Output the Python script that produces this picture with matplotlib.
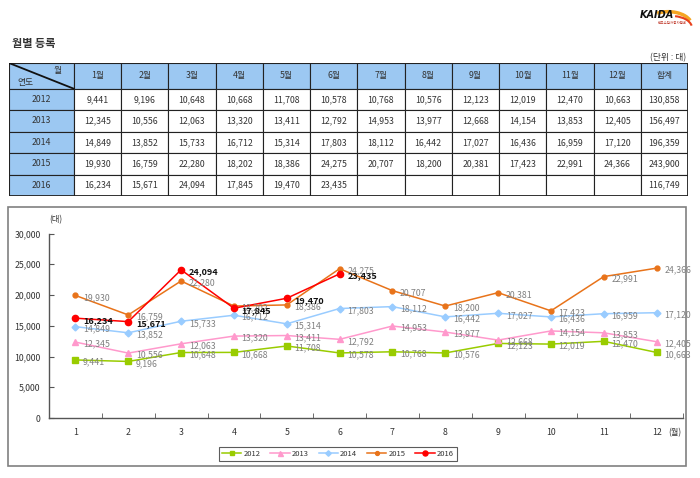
import matplotlib
matplotlib.use('Agg')
import matplotlib.pyplot as plt
from matplotlib.patches import Rectangle, Arc
from matplotlib.ticker import FuncFormatter, FixedLocator

plt.rcParams['font.family'] = ['Noto Sans CJK KR', 'DejaVu Sans']

# data
months = list(range(1, 13))
month_labels = [f'{m}월' for m in months]
years = ['2012', '2013', '2014', '2015', '2016']
reg_2012 = [9441, 9196, 10648, 10668, 11708, 10578, 10768, 10576, 12123, 12019, 12470, 10663]
reg_2013 = [12345, 10556, 12063, 13320, 13411, 12792, 14953, 13977, 12668, 14154, 13853, 12405]
reg_2014 = [14849, 13852, 15733, 16712, 15314, 17803, 18112, 16442, 17027, 16436, 16959, 17120]
reg_2015 = [19930, 16759, 22280, 18202, 18386, 24275, 20707, 18200, 20381, 17423, 22991, 24366]
reg_2016 = [16234, 15671, 24094, 17845, 19470, 23435]
series = [reg_2012, reg_2013, reg_2014, reg_2015, reg_2016]

colors = ['#99CC00', '#FF99CC', '#99CCFF', '#E8731A', '#FF0000']
markers = ['s', '^', 'D', 'o', 'o']
msizes = [4, 4.5, 3.5, 3.5, 4.5]

W, H = 700, 478
fig = plt.figure(figsize=(W / 100, H / 100), dpi=100)


def fx(x):
    return x / W


def fy(y):
    return 1 - y / H


txt = '#333333'

# title / unit / logo
fig.text(fx(12), fy(44), '월별 등록', fontsize=8, fontweight='bold', color=txt, va='center')
fig.text(fx(686), fy(58), '(단위 : 대)', fontsize=6.3, color=txt, va='center', ha='right')
fig.text(fx(657), fy(15), 'KAIDA', fontsize=7, fontweight='bold', fontstyle='italic',
         color='#111111', va='center', ha='center', family='DejaVu Sans')
fig.add_artist(Arc((fx(668), fy(26)), fx(48), 0.06, theta1=20, theta2=120,
                   transform=fig.transFigure, color='#F5A623', lw=2.5))
fig.add_artist(Arc((fx(672), fy(28)), fx(40), 0.05, theta1=10, theta2=80,
                   transform=fig.transFigure, color='#E8401C', lw=1.5))
fig.text(fx(672), fy(23), '한국수입자동차협회', fontsize=2.5, color='#C0392B', va='center', ha='center')

# table
tx = fig.add_axes([fx(9), fy(196), fx(688 - 9), (196 - 63) / H])
tx.axis('off')
head_h = 1.2
col_w = [1.373] + [1.0] * 13
n_rows = len(years)
tot_w = sum(col_w)
tot_h = head_h + n_rows
tx.set_xlim(0, tot_w)
tx.set_ylim(tot_h, 0)
edges = [0]
for w in col_w:
    edges.append(edges[-1] + w)

head_fill = '#9CC8F2'
header = [''] + month_labels + ['합계']
for j, lab in enumerate(header):
    tx.add_patch(Rectangle((edges[j], 0), col_w[j], head_h, facecolor=head_fill,
                           edgecolor='#222222', lw=0.8))
    if lab:
        tx.text(edges[j] + col_w[j] / 2, head_h / 2, lab, ha='center', va='center',
                fontsize=6.3, color=txt)
tx.plot([0, col_w[0]], [0, head_h], color='#111111', lw=1.3)
tx.text(col_w[0] * 0.75, head_h * 0.28, '월', ha='center', va='center', fontsize=6.3, color=txt)
tx.text(col_w[0] * 0.25, head_h * 0.75, '연도', ha='center', va='center', fontsize=6.3, color=txt)

for i, (yr, vals) in enumerate(zip(years, series)):
    y0 = head_h + i
    cells = [yr] + [f'{v:,}' for v in vals] + [''] * (12 - len(vals)) + [f'{sum(vals):,}']
    for j, c in enumerate(cells):
        fc = head_fill if j == 0 else 'white'
        tx.add_patch(Rectangle((edges[j], y0), col_w[j], 1, facecolor=fc,
                               edgecolor='#222222', lw=0.8))
        if c:
            tx.text(edges[j] + col_w[j] / 2, y0 + 0.5, c, ha='center', va='center',
                    fontsize=6.3, color=txt)
tx.add_patch(Rectangle((0, 0), tot_w, tot_h, fill=False, edgecolor='#222222', lw=1.3))

# chart frame
fig.add_artist(Rectangle((fx(8), fy(466)), fx(686 - 8), (466 - 207) / H,
                         transform=fig.transFigure, fill=False, edgecolor='#808080', lw=1.2))

ax = fig.add_axes([fx(49), fy(418), fx(683 - 49), (418 - 233.5) / H])
for k, (yr, vals) in enumerate(zip(years, series)):
    xs = months[:len(vals)]
    ax.plot(xs, vals, color=colors[k], marker=markers[k], markersize=msizes[k],
            lw=1.1, label=yr, zorder=3 + k)
    for x, v in zip(xs, vals):
        if yr == '2016':
            ax.annotate(f'{v:,}', (x, v), xytext=(5.5, -1.5), textcoords='offset points',
                        fontsize=6.5, fontweight='bold', color='#111111', va='center',
                        zorder=10)
        else:
            ax.annotate(f'{v:,}', (x, v), xytext=(5.5, -1.5), textcoords='offset points',
                        fontsize=6.3, color='#808080', va='center', zorder=9)

ax.set_xlim(0.5, 12.5)
ax.set_ylim(0, 30000)
ax.set_yticks(range(0, 30001, 5000))
ax.yaxis.set_major_formatter(FuncFormatter(lambda v, p: f'{int(v):,}'))
ax.set_xticks(months)
ax.xaxis.set_minor_locator(FixedLocator([m + 0.5 for m in range(0, 13)]))
ax.tick_params(axis='x', which='major', length=0, pad=7, labelsize=6.3, labelcolor=txt)
ax.tick_params(axis='x', which='minor', direction='in', length=3.5, color='#555555')
ax.tick_params(axis='y', direction='in', length=3.5, pad=6, labelsize=6.3,
               labelcolor=txt, color='#555555')
for s in ['top', 'right']:
    ax.spines[s].set_visible(False)
for s in ['left', 'bottom']:
    ax.spines[s].set_color('#555555')
    ax.spines[s].set_linewidth(1)

fig.text(fx(56), fy(220), '(대)', fontsize=6, color=txt, ha='center', va='center')
fig.text(fx(675), fy(433), '(월)', fontsize=6, color=txt, ha='center', va='center')

leg = fig.legend(loc='center', bbox_to_anchor=(fx(338), fy(454)), ncol=5, fontsize=5.5,
                 frameon=True, fancybox=False, edgecolor='#333333', handlelength=2.5,
                 handletextpad=0.3, columnspacing=1.3, borderpad=0.35, markerscale=0.8)
leg.get_frame().set_linewidth(0.8)
for t in leg.get_texts():
    t.set_color(txt)

fig.savefig('out.png', dpi=100)
